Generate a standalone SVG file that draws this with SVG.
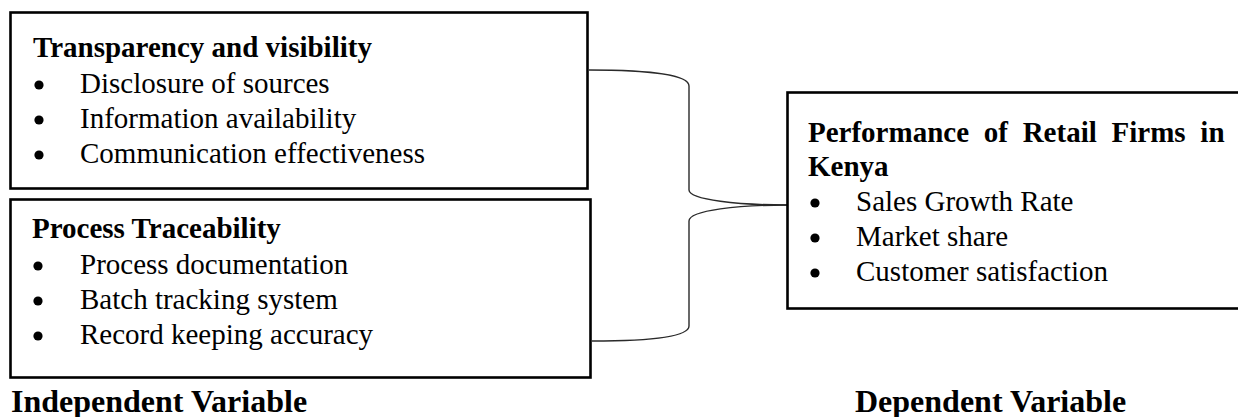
<svg xmlns="http://www.w3.org/2000/svg" width="1238" height="417" viewBox="0 0 1238 417">
  <style>
    .box { fill: #ffffff; stroke: #000000; stroke-width: 2.6; }
    .head { font-family: "Liberation Serif", "Times New Roman", serif; font-weight: bold; font-size: 29px; fill: #000; }
    .item { font-family: "Liberation Serif", "Times New Roman", serif; font-size: 29px; fill: #000; }
    .label { font-family: "Liberation Serif", "Times New Roman", serif; font-weight: bold; font-size: 32px; fill: #000; }
    .dot { fill: #000; }
    .link { fill: none; stroke: #2a2a2a; stroke-width: 1.4; }
  </style>
  <rect width="1238" height="417" fill="#ffffff"/>

  <!-- brace joining the two independent variables to the dependent one -->
  <g id="connectors">
    <path class="link" d="M589,70 C650,70 689,75 689,86 L689,190 C689,200 740,205 787,205"/>
    <path class="link" d="M787,205 C740,205 689,210 689,221 L689,326 C689,337 650,341 592,341"/>
  </g>

  <g id="transparency">
    <rect class="box" x="10.5" y="12.5" width="577" height="176"/>
    <text class="head" x="33" y="57">Transparency and visibility</text>
    <circle class="dot" cx="39" cy="85" r="4.6"/>
    <text class="item" x="80" y="93">Disclosure of sources</text>
    <circle class="dot" cx="39" cy="120" r="4.6"/>
    <text class="item" x="80" y="128">Information availability</text>
    <circle class="dot" cx="39" cy="155" r="4.6"/>
    <text class="item" x="80" y="163">Communication effectiveness</text>
  </g>

  <g id="traceability">
    <rect class="box" x="10.5" y="199.5" width="580" height="178"/>
    <text class="head" x="32" y="238">Process Traceability</text>
    <circle class="dot" cx="38" cy="266" r="4.6"/>
    <text class="item" x="80" y="274">Process documentation</text>
    <circle class="dot" cx="38" cy="301" r="4.6"/>
    <text class="item" x="80" y="309">Batch tracking system</text>
    <circle class="dot" cx="38" cy="336" r="4.6"/>
    <text class="item" x="80" y="344">Record keeping accuracy</text>
  </g>

  <g id="performance">
    <rect class="box" x="787.5" y="92.5" width="460" height="216"/>
    <text class="head" x="808" y="142" word-spacing="7.5">Performance of Retail Firms in</text>
    <text class="head" x="808" y="176">Kenya</text>
    <circle class="dot" cx="815" cy="203" r="4.6"/>
    <text class="item" x="856" y="211">Sales Growth Rate</text>
    <circle class="dot" cx="815" cy="238" r="4.6"/>
    <text class="item" x="856" y="246">Market share</text>
    <circle class="dot" cx="815" cy="273" r="4.6"/>
    <text class="item" x="856" y="281">Customer satisfaction</text>
  </g>

  <g id="captions">
    <text class="label" x="11" y="412">Independent Variable</text>
    <text class="label" x="855" y="412">Dependent Variable</text>
  </g>
</svg>
